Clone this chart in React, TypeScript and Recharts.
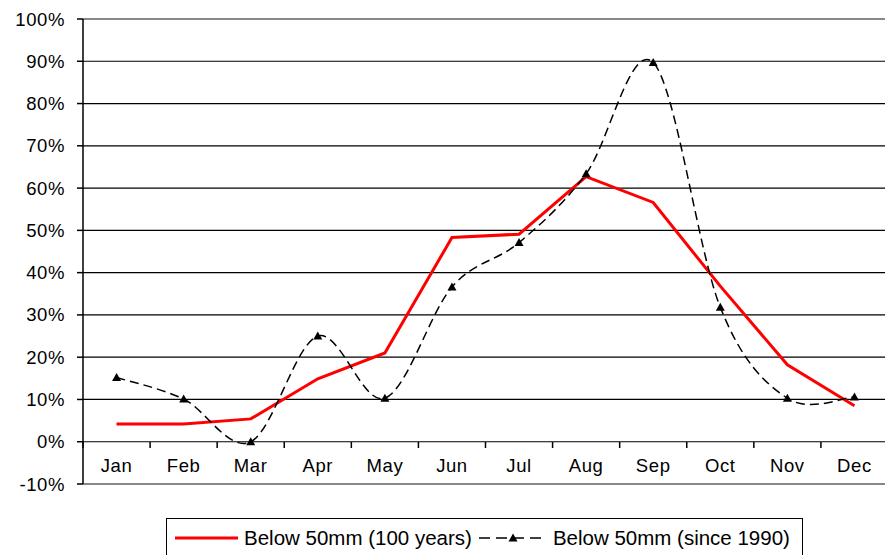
import React from 'react';
import {
  LineChart,
  Line,
  XAxis,
  YAxis,
  CartesianGrid,
  Legend,
  ReferenceLine,
} from 'recharts';

const months = ['Jan', 'Feb', 'Mar', 'Apr', 'May', 'Jun', 'Jul', 'Aug', 'Sep', 'Oct', 'Nov', 'Dec'];
const below100Years = [4.2, 4.2, 5.4, 14.9, 21.0, 48.3, 49.1, 62.7, 56.6, 36.8, 18.2, 8.5];
const belowSince1990 = [15.2, 10.1, 0, 25.0, 10.3, 36.6, 47.1, 63.4, 89.7, 31.8, 10.3, 10.6];
const yTicks = [-10, 0, 10, 20, 30, 40, 50, 60, 70, 80, 90, 100];

const chartData = months.map((month, i) => ({
  month,
  hundred: below100Years[i],
  since1990: belowSince1990[i],
}));

const FONT = '"Liberation Sans", Arial, sans-serif';

// Excel style smoothed line (catmull-rom through every point)
const excelSmooth = (context: any) => {
  let pts: number[][] = [];
  return {
    areaStart() {},
    areaEnd() {},
    lineStart() {
      pts = [];
    },
    point(x: number, y: number) {
      pts.push([+x, +y]);
    },
    lineEnd() {
      const n = pts.length;
      if (!n) return;
      context.moveTo(pts[0][0], pts[0][1]);
      for (let i = 0; i < n - 1; i++) {
        const p0 = pts[Math.max(i - 1, 0)];
        const p1 = pts[i];
        const p2 = pts[i + 1];
        const p3 = pts[Math.min(i + 2, n - 1)];
        context.bezierCurveTo(
          p1[0] + (p2[0] - p0[0]) / 6,
          p1[1] + (p2[1] - p0[1]) / 6,
          p2[0] - (p3[0] - p1[0]) / 6,
          p2[1] - (p3[1] - p1[1]) / 6,
          p2[0],
          p2[1]
        );
      }
    },
  };
};

const TriangleDot = (props: any) => {
  const { cx, cy } = props;
  if (cx == null || cy == null) return null;
  return (
    <polygon
      points={`${cx - 4.5},${cy + 3.5} ${cx + 4.5},${cy + 3.5} ${cx},${cy - 4.5}`}
      fill="#000"
    />
  );
};

const MonthTick = (props: any) => {
  const { x, y, payload, width, visibleTicksCount } = props;
  const half = width / visibleTicksCount / 2;
  return (
    <g>
      <line x1={x - half} x2={x - half} y1={y - 42} y2={y - 36} stroke="#000" strokeWidth={1.5} />
      <text
        x={x}
        y={y - 12.5}
        textAnchor="middle"
        fill="#000"
        fontSize={18.5}
        letterSpacing={0.6}
        fontFamily={FONT}
      >
        {payload.value}
      </text>
    </g>
  );
};

const LegendBox = ({ payload }: any) => (
  <div
    style={{
      marginLeft: 166,
      width: 637,
      height: 52,
      border: '1px solid #000',
      boxSizing: 'border-box',
      paddingTop: 8,
      paddingLeft: 8,
      display: 'flex',
      alignItems: 'flex-start',
      fontFamily: FONT,
      fontSize: 20.5,
      lineHeight: '22px',
      color: '#000',
      background: '#fff',
      whiteSpace: 'nowrap',
    }}
  >
    {(payload || []).map((entry: any, i: number) => {
      const dashed = !!entry.payload?.strokeDasharray;
      return (
        <div key={i} style={{ display: 'flex', alignItems: 'center', marginRight: 7 }}>
          <svg width={dashed ? 68 : 63} height={22} style={{ marginRight: 6 }}>
            {dashed ? (
              <>
                <line x1={0} x2={68} y1={11} y2={11} stroke="#000" strokeWidth={1.5} strokeDasharray="11 6" />
                <polygon points="29.5,14.5 38.5,14.5 34,6.5" fill="#000" />
              </>
            ) : (
              <line x1={0} x2={63} y1={11} y2={11} stroke={entry.color} strokeWidth={3} />
            )}
          </svg>
          <span>{entry.value}</span>
        </div>
      );
    })}
  </div>
);

export default function App() {
  return (
    <div
      style={{
        position: 'absolute',
        left: 0,
        top: 0,
        width: 885,
        height: 555,
        overflow: 'hidden',
        background: '#fff',
      }}
    >
      <LineChart
        width={900}
        height={570}
        data={chartData}
        margin={{ top: 19, right: 12, left: 0, bottom: 0 }}
      >
        <CartesianGrid vertical={false} stroke="#000" strokeWidth={1.2} />
        <ReferenceLine y={100} stroke="#888" strokeWidth={2} />
        <ReferenceLine y={-10} stroke="#888" strokeWidth={2} />
        <XAxis
          dataKey="month"
          scale="band"
          height={34}
          interval={0}
          axisLine={false}
          tickLine={false}
          tickSize={0}
          tickMargin={0}
          tick={<MonthTick />}
        />
        <YAxis
          width={83}
          domain={[-10, 100]}
          ticks={yTicks}
          interval={0}
          tickFormatter={(v: number) => `${v}%`}
          axisLine={{ stroke: '#000', strokeWidth: 1.5 }}
          tickLine={{ stroke: '#000', strokeWidth: 1.5 }}
          tickSize={6}
          tickMargin={12}
          tick={{ fill: '#000', fontSize: 18.5, fontFamily: FONT, letterSpacing: 0.6 }}
        />
        <Legend verticalAlign="bottom" align="left" content={<LegendBox />} />
        <Line
          type="linear"
          dataKey="hundred"
          name="Below 50mm (100 years)"
          stroke="#ff0000"
          strokeWidth={3}
          dot={false}
          activeDot={false}
          isAnimationActive={false}
        />
        <Line
          type={excelSmooth as any}
          dataKey="since1990"
          name="Below 50mm (since 1990)"
          stroke="#000"
          strokeWidth={1.5}
          strokeDasharray="9 5"
          dot={<TriangleDot />}
          activeDot={false}
          isAnimationActive={false}
        />
      </LineChart>
    </div>
  );
}
